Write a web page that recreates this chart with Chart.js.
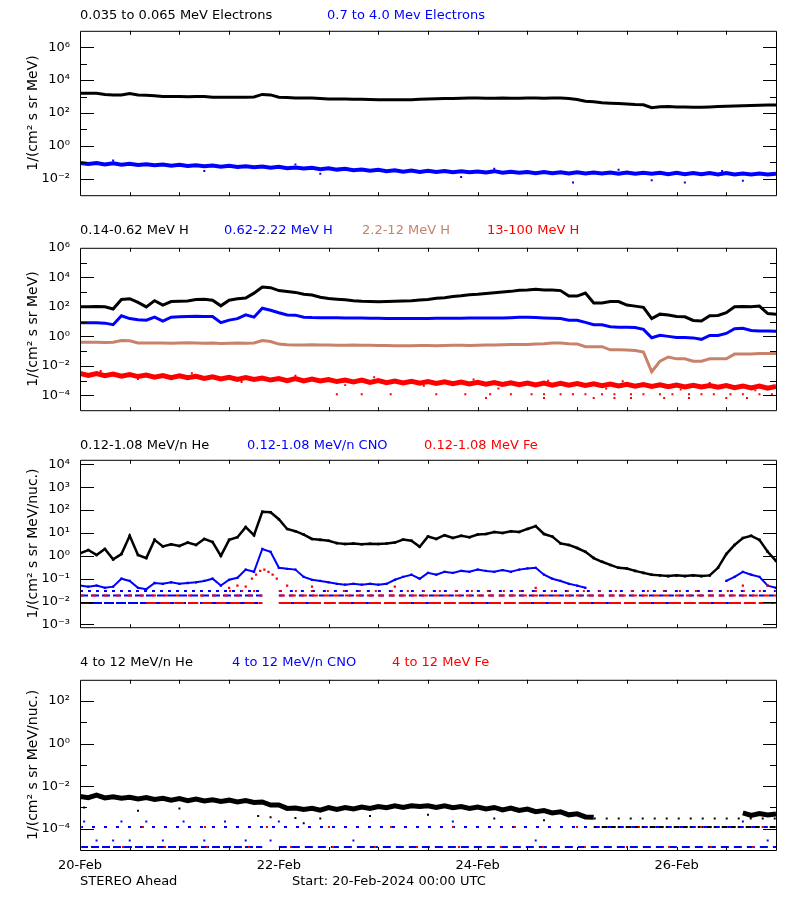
<!DOCTYPE html>
<html><head><meta charset="utf-8">
<script src="https://cdn.jsdelivr.net/npm/chart.js@4.4.1/dist/chart.umd.min.js"></script>
<style>
html,body{margin:0;padding:0;background:#fff}
body{width:800px;height:900px;position:relative;overflow:hidden;font-family:"DejaVu Sans",sans-serif}
canvas{position:absolute;left:0}
.t{position:absolute;white-space:pre;font-size:13px;line-height:13px;z-index:2}
</style></head><body>
<canvas id="c1" width="800" height="200" style="top:13px"></canvas>
<canvas id="c2" width="800" height="198" style="top:230px"></canvas>
<canvas id="c3" width="800" height="203" style="top:442px"></canvas>
<canvas id="c4" width="800" height="218" style="top:662px"></canvas>

<div class="t" style="left:80px;top:8px;color:#000">0.035 to 0.065 MeV Electrons</div>
<div class="t" style="left:327px;top:8px;color:#0000ff">0.7 to 4.0 Mev Electrons</div>

<div class="t" style="left:80px;top:223px;color:#000">0.14-0.62 MeV H</div>
<div class="t" style="left:224px;top:223px;color:#0000ff">0.62-2.22 MeV H</div>
<div class="t" style="left:362px;top:223px;color:#c8826a">2.2-12 MeV H</div>
<div class="t" style="left:487px;top:223px;color:#ff0000">13-100 MeV H</div>

<div class="t" style="left:80px;top:438px;color:#000">0.12-1.08 MeV/n He</div>
<div class="t" style="left:247px;top:438px;color:#0000ff">0.12-1.08 MeV/n CNO</div>
<div class="t" style="left:424px;top:438px;color:#ff0000">0.12-1.08 MeV Fe</div>

<div class="t" style="left:80px;top:655px;color:#000">4 to 12 MeV/n He</div>
<div class="t" style="left:232px;top:655px;color:#0000ff">4 to 12 MeV/n CNO</div>
<div class="t" style="left:392px;top:655px;color:#ff0000">4 to 12 MeV Fe</div>

<div class="t" style="left:80px;top:874px;color:#000">STEREO Ahead</div>
<div class="t" style="left:292px;top:874px;color:#000">Start: 20-Feb-2024 00:00 UTC</div>

<script>
// ---------------- DATA (one value every STEP_H hours from 20-Feb 00:00) ----------------
const STEP_H = 2;
const spanHours = 168;
const dayLabels = ['20-Feb', '22-Feb', '24-Feb', '26-Feb'];
const dayLabelHours = [0, 48, 96, 144];

// Panel 1: electrons
const p1Black = [1580,1590,1570,1350,1230,1240,1510,1230,1220,1120,1000,1010,1000,990,1000,1000,910,915,910,905,912,950,1350,1260,910,890,815,810,812,760,710,705,700,690,675,660,645,630,630,630,645,675,710,740,760,775,795,812,815,800,795,812,795,800,830,830,800,812,812,760,660,525,480,415,390,372,355,330,316,210,240,245,234,229,224,224,234,245,257,269,275,282,295,302,302];
const p1Blue = [0.092,0.078,0.09,0.074,0.088,0.072,0.081,0.069,0.077,0.066,0.074,0.062,0.071,0.06,0.066,0.058,0.064,0.054,0.062,0.052,0.058,0.05,0.056,0.047,0.053,0.044,0.049,0.042,0.046,0.038,0.043,0.036,0.04,0.033,0.037,0.031,0.035,0.029,0.033,0.027,0.032,0.026,0.031,0.026,0.03,0.025,0.029,0.025,0.028,0.024,0.029,0.023,0.027,0.023,0.026,0.022,0.026,0.022,0.025,0.021,0.025,0.021,0.024,0.021,0.024,0.02,0.024,0.02,0.023,0.02,0.023,0.019,0.023,0.019,0.022,0.019,0.022,0.018,0.022,0.018,0.021,0.018,0.021,0.018,0.02];
const p1BlueOutT = [8, 30, 52, 58, 92, 100, 119, 130, 138, 146, 155, 160];
const p1BlueOutV = [0.13, 0.03, 0.075, 0.02, 0.013, 0.04, 0.006, 0.035, 0.008, 0.006, 0.03, 0.0075];

// Panel 2: protons
const p2Black = [102,100,105,100,71,316,355,200,100,263,132,229,240,251,316,331,282,117,282,355,398,851,2190,2000,1260,1100,955,708,631,447,363,331,302,263,240,229,224,229,240,251,263,288,316,380,417,501,562,661,708,794,891,1000,1120,1320,1410,1580,1410,1380,1260,537,537,851,182,182,229,229,132,112,93,16,32,28,22,21,12,11,25,26,40,100,105,100,112,35,32];
const p2Blue = [8.5,8.5,8.3,7.9,6.2,25,16,13.5,12.6,20,10.7,20,21,22,23,22.4,22,8.5,12.6,16,29,20,81,59,40,28,27.5,20,19,18.6,18.6,18.2,17.8,17.4,17.4,17,16.6,16.2,16,16,16,16,16.2,16.6,16.6,17,17,17.4,17.4,17.8,17.8,17.8,18.6,20,20,19,17.8,17,16,12.3,12.3,8.9,6.2,6.2,4.5,4.2,4.2,4,3,0.81,1.17,1,0.85,0.85,0.79,0.63,1.17,1.17,1.58,3.3,3.5,2.5,2.3,2.3,2.2];
const p2Tan = [0.4,0.4,0.4,0.39,0.4,0.52,0.5,0.36,0.35,0.35,0.36,0.34,0.35,0.37,0.35,0.34,0.35,0.33,0.34,0.35,0.34,0.36,0.52,0.45,0.3,0.27,0.26,0.26,0.27,0.26,0.26,0.25,0.25,0.26,0.25,0.25,0.24,0.24,0.23,0.23,0.23,0.24,0.24,0.23,0.24,0.25,0.25,0.24,0.25,0.26,0.26,0.27,0.28,0.28,0.28,0.3,0.32,0.36,0.36,0.32,0.31,0.2,0.2,0.2,0.123,0.123,0.12,0.11,0.087,0.004,0.021,0.04,0.03,0.03,0.021,0.021,0.03,0.03,0.03,0.063,0.063,0.065,0.069,0.069,0.07];
const p2Red = [0.0031,0.0023,0.0030,0.0022,0.0028,0.0020,0.0026,0.0019,0.0024,0.0017,0.0022,0.0016,0.0021,0.0016,0.0020,0.0014,0.0018,0.0013,0.0017,0.0012,0.0016,0.0012,0.0015,0.0011,0.0014,0.0010,0.0014,0.00096,0.0013,0.00095,0.0012,0.00087,0.0011,0.00083,0.0011,0.00077,0.0010,0.00074,0.00094,0.0007,0.0009,0.00067,0.00086,0.00064,0.00084,0.00062,0.0008,0.0006,0.00077,0.00057,0.00075,0.00056,0.00072,0.00054,0.0007,0.00052,0.00068,0.0005,0.00066,0.00049,0.00063,0.00047,0.00061,0.00045,0.00059,0.00044,0.00056,0.00042,0.00054,0.00041,0.00053,0.00039,0.00051,0.00038,0.00049,0.00037,0.00047,0.00036,0.00046,0.00034,0.00044,0.00032,0.00043,0.00031,0.0004];
const p2RedOutT = [5, 14, 27, 39, 52, 64, 71, 83, 95, 101, 113, 127, 131, 145, 152, 163];
const p2RedOutV = [0.0045, 0.0013, 0.0032, 0.0008, 0.0022, 0.0005, 0.0017, 0.00045, 0.0012, 0.0003, 0.001, 0.0003, 0.0009, 0.00025, 0.0007, 0.00022];
const p2RedLowT1 = [62,68,75,86,93,99,104,109,112,116,119,122,126,129,133,136,140,143,147,150,153,157,160,164,167];
const p2RedLowV1 = 1.2e-4;
const p2RedLowT2 = [98,112,124,129,133,141,147,156,161];
const p2RedLowV2 = 6.8e-5;

// Panel 3: 0.12-1.08 MeV/n ions
const p3Black = [1.3,1.8,1.1,2.0,0.7,1.2,7.5,1.1,0.8,5.0,2.6,3.2,2.7,3.8,3.0,5.5,4.0,1.0,5.0,6.5,18,8,85,80,40,15,12,8.5,5.5,5.0,4.6,3.6,3.3,3.5,3.2,3.4,3.3,3.5,3.8,5.2,4.6,2.5,7,5.5,8,6,7.5,6.5,8.5,9,11,10,12,11,15,20,9,7,3.5,3,2.2,1.5,0.8,0.55,0.4,0.3,0.28,0.22,0.18,0.15,0.14,0.13,0.14,0.13,0.14,0.13,0.14,0.3,1.2,3,6,7.5,5,1.5,0.6];
const p3Blue = [0.05,0.045,0.05,0.04,0.045,0.1,0.08,0.04,0.035,0.065,0.06,0.07,0.06,0.065,0.07,0.08,0.1,0.05,0.09,0.11,0.25,0.2,2.0,1.5,0.3,0.27,0.25,0.12,0.09,0.08,0.07,0.06,0.055,0.06,0.055,0.06,0.055,0.06,0.09,0.12,0.15,0.1,0.18,0.15,0.2,0.18,0.22,0.2,0.25,0.22,0.2,0.24,0.2,0.25,0.28,0.3,0.15,0.1,0.08,0.06,0.05,0.04,null,null,null,null,null,null,null,null,null,null,null,null,null,null,null,null,0.08,0.12,0.2,0.15,0.12,0.05,0.04];
const p3RedT = [36,38,40,41.5,42.5,43.5,44.5,45.5,46.5,47.5,50,56,76,110,160,166];
const p3RedV = [0.04,0.05,0.045,0.1,0.15,0.22,0.25,0.2,0.15,0.1,0.05,0.045,0.045,0.04,0.05,0.05];
const p3CountLevels = [0.0087, 0.0185, 0.029];

// Panel 4: 4-12 MeV/n ions
const p4Black = [0.0033,0.0029,0.0038,0.0028,0.0032,0.0027,0.003,0.0025,0.0029,0.0024,0.0027,0.0022,0.0026,0.0021,0.0025,0.002,0.0023,0.0019,0.0022,0.0018,0.0021,0.0017,0.0018,0.0013,0.0013,0.0009,0.00095,0.0008,0.00092,0.00075,0.00098,0.0008,0.001,0.00085,0.00105,0.0009,0.0011,0.00098,0.0012,0.001,0.0012,0.0011,0.0012,0.001,0.0012,0.00098,0.0011,0.0009,0.00105,0.00085,0.001,0.00077,0.00094,0.00072,0.00084,0.00063,0.00072,0.00055,0.00062,0.00045,0.0005,0.00036,0.00035,null,null,null,null,null,null,null,null,null,null,null,null,null,null,null,null,null,0.00055,0.00042,0.00052,0.00044,0.0005];
const p4BlackOutT = [1, 14, 24, 43, 46, 52, 54, 58, 70, 84, 100, 112];
const p4BlackOutV = [0.001, 0.0007, 0.0009, 0.0004, 0.00035, 0.00032, 0.00018, 0.0003, 0.0004, 0.00045, 0.0003, 0.00025];
const p4CountLevels = [1.4e-5, 1.2e-4, 3.0e-4];
const p4BlueMidT = [1,10,16,25,35,48,90,160];
const p4BlueMidV = 2.2e-4;
const p4BlueLowT = [4,8,12,20,30,40,46,66,110,166];
const p4BlueLowV = 2.8e-5;

// ---------------- RENDERING ----------------
const BLACK = '#000000', BLUE = '#0000ff', TAN = '#c8826a', RED = '#ff0000';
const FONT = 'DejaVu Sans';
const SUP = {'0':'\u2070','1':'\u00b9','2':'\u00b2','3':'\u00b3','4':'\u2074','5':'\u2075','6':'\u2076','7':'\u2077','8':'\u2078','9':'\u2079','-':'\u207b'};
const sup = e => String(e).split('').map(c => SUP[c]).join('');
const series = arr => arr.map((v, i) => ({x: i * STEP_H, y: v}));
const pts = (ts, v) => ts.map((t, i) => ({x: t, y: Array.isArray(v) ? v[i] : v}));

function lineDS(arr, color, w) {
  return {data: series(arr), borderColor: color, backgroundColor: color, borderWidth: w, pointRadius: 0, tension: 0};
}
function bandDS(arr, color, w, r) {
  return {data: series(arr), borderColor: color, backgroundColor: color, borderWidth: w, pointRadius: r,
    pointStyle: 'rect', pointBorderWidth: 0, pointBackgroundColor: color, tension: 0};
}
function dotsDS(data, color, r) {
  return {data, showLine: false, borderColor: color, backgroundColor: color, pointRadius: r,
    pointStyle: 'rect', pointBorderWidth: 0, pointBackgroundColor: color};
}
function rowDS(level, from, to, color, dash, w) {
  return {data: [{x: from, y: level}, {x: to, y: level}], borderColor: color, borderWidth: w || 2,
    borderDash: dash, pointRadius: 0, borderCapStyle: 'butt'};
}

const frameTicks = {
  id: 'frameTicks',
  afterDatasetsDraw(chart) {
    const {ctx, chartArea: a, scales: {x, y}} = chart;
    const o = chart.options.plugins.frameTicks;
    ctx.save();
    ctx.strokeStyle = '#000'; ctx.lineWidth = 1;
    ctx.beginPath();
    ctx.rect(a.left + 0.5, a.top + 0.5, a.right - a.left, a.bottom - a.top);
    for (let e = Math.ceil(Math.log10(y.min) - 1e-9); e <= Math.floor(Math.log10(y.max) + 1e-9); e++) {
      const py = Math.round(y.getPixelForValue(Math.pow(10, e))) + 0.5;
      if (py <= a.top + 1.5 || py >= a.bottom - 0.5) continue;
      const len = (e % o.every === 0) ? 14 : 7;
      ctx.moveTo(a.left, py); ctx.lineTo(a.left + len, py);
      ctx.moveTo(a.right + 1, py); ctx.lineTo(a.right + 1 - len, py);
    }
    for (let h = 12; h < spanHours; h += 12) {
      const px = Math.round(x.getPixelForValue(h)) + 0.5;
      ctx.moveTo(px, a.top); ctx.lineTo(px, a.top + 4);
      ctx.moveTo(px, a.bottom + 1); ctx.lineTo(px, a.bottom - 3);
    }
    ctx.stroke();
    ctx.restore();
  }
};

function makeChart(id, datasets, yMin, yMax, every, yTitle, showX) {
  new Chart(document.getElementById(id), {
    type: 'line',
    data: {datasets},
    plugins: [frameTicks],
    options: {
      responsive: false, animation: false, events: [],
      layout: {padding: {left: 21, right: 24, top: 10, bottom: 10}},
      plugins: {legend: {display: false}, tooltip: {enabled: false}, frameTicks: {every}},
      scales: {
        x: {
          type: 'linear', min: 0, max: spanHours,
          grid: {display: false, drawTicks: false}, border: {display: false},
          ticks: {display: showX, autoSkip: false, maxRotation: 0, padding: 8, color: '#000',
            font: {family: FONT, size: 13},
            callback: v => { const i = dayLabelHours.indexOf(v); return i >= 0 ? dayLabels[i] : ''; }},
          afterBuildTicks: s => { s.ticks = dayLabelHours.map(v => ({value: v})); },
          afterFit: s => { s.height = showX ? 20 : 0; }
        },
        y: {
          type: 'logarithmic', min: yMin, max: yMax, position: 'left',
          grid: {display: false, drawTicks: false}, border: {display: false},
          title: {display: true, text: yTitle, color: '#000', font: {family: FONT, size: 14}, padding: {top: 4, bottom: 4}},
          ticks: {autoSkip: false, padding: 10, color: '#000', font: {family: FONT, size: 13},
            callback: v => { const e = Math.round(Math.log10(v)); return (e % every === 0) ? '10' + sup(e) : ''; }},
          afterBuildTicks: s => {
            const t = [];
            for (let e = Math.ceil(Math.log10(yMin) - 1e-9); e <= Math.floor(Math.log10(yMax) + 1e-9); e++) t.push({value: Math.pow(10, e)});
            s.ticks = t;
          },
          afterFit: s => { s.width = 59; }
        }
      }
    }
  });
}

const T1 = '1/(cm\u00b2 s sr MeV)';
const T2 = '1/(cm\u00b2 s sr MeV/nuc.)';

makeChart('c1', [
  lineDS(p1Black, BLACK, 3),
  lineDS(p1Blue, BLUE, 4),
  dotsDS(pts(p1BlueOutT, p1BlueOutV), BLUE, 1.4)
], 1e-3, 1e7, 2, T1, false);

makeChart('c2', [
  lineDS(p2Black, BLACK, 3),
  lineDS(p2Blue, BLUE, 3),
  lineDS(p2Tan, TAN, 3),
  lineDS(p2Red, RED, 5),
  dotsDS(pts(p2RedOutT, p2RedOutV), RED, 1.4),
  dotsDS(pts(p2RedLowT1, p2RedLowV1), RED, 1.4),
  dotsDS(pts(p2RedLowT2, p2RedLowV2), RED, 1.4)
], 1e-5, 1e6, 2, T1, false);

makeChart('c3', [
  dotsDS(pts(p3RedT, p3RedV), RED, 1.6),
  rowDS(p3CountLevels[2], 36, 44, RED, [2, 10]),
  rowDS(p3CountLevels[2], 48, 168, RED, [2, 14]),
  rowDS(p3CountLevels[1], 0, 44, RED, [4, 8]),
  rowDS(p3CountLevels[1], 48, 168, RED, [6, 5]),
  rowDS(p3CountLevels[0], 16, 44, RED, [10, 4]),
  rowDS(p3CountLevels[0], 48, 168, RED, [12, 3]),
  bandDS(p3Blue, BLUE, 2, 1.6),
  rowDS(p3CountLevels[2], 0, 44, BLUE, [3, 5]),
  rowDS(p3CountLevels[2], 48, 168, BLUE, [3, 8]),
  rowDS(p3CountLevels[1], 0, 44, BLUE, [8, 3]),
  rowDS(p3CountLevels[1], 48, 168, BLUE, [5, 5]),
  rowDS(p3CountLevels[0], 0, 44, BLUE, [10, 2]),
  rowDS(p3CountLevels[0], 48, 168, BLUE, [6, 6]),
  rowDS(p3CountLevels[0], 0, 4, BLACK, []),
  bandDS(p3Black, BLACK, 2.5, 1.8)
], Math.pow(10, -3.12), Math.pow(10, 4.2), 1, T2, false);

makeChart('c4', [
  rowDS(p4CountLevels[0], 0, 168, RED, [2, 40]),
  rowDS(p4CountLevels[1], 0, 168, RED, [2, 60]),
  dotsDS(pts(p4BlueMidT, p4BlueMidV), BLUE, 1.4),
  dotsDS(pts(p4BlueLowT, p4BlueLowV), BLUE, 1.4),
  rowDS(p4CountLevels[0], 0, 44, BLUE, [8, 3]),
  rowDS(p4CountLevels[0], 48, 168, BLUE, [8, 5]),
  rowDS(p4CountLevels[1], 0, 168, BLUE, [3, 9]),
  rowDS(p4CountLevels[1], 124, 168, BLACK, [6, 2]),
  rowDS(p4CountLevels[2], 124, 168, BLACK, [2, 10]),
  dotsDS(pts(p4BlackOutT, p4BlackOutV), BLACK, 1.4),
  lineDS(p4Black, BLACK, 5)
], 1e-5, 1e3, 2, T2, true);
</script>
</body></html>
